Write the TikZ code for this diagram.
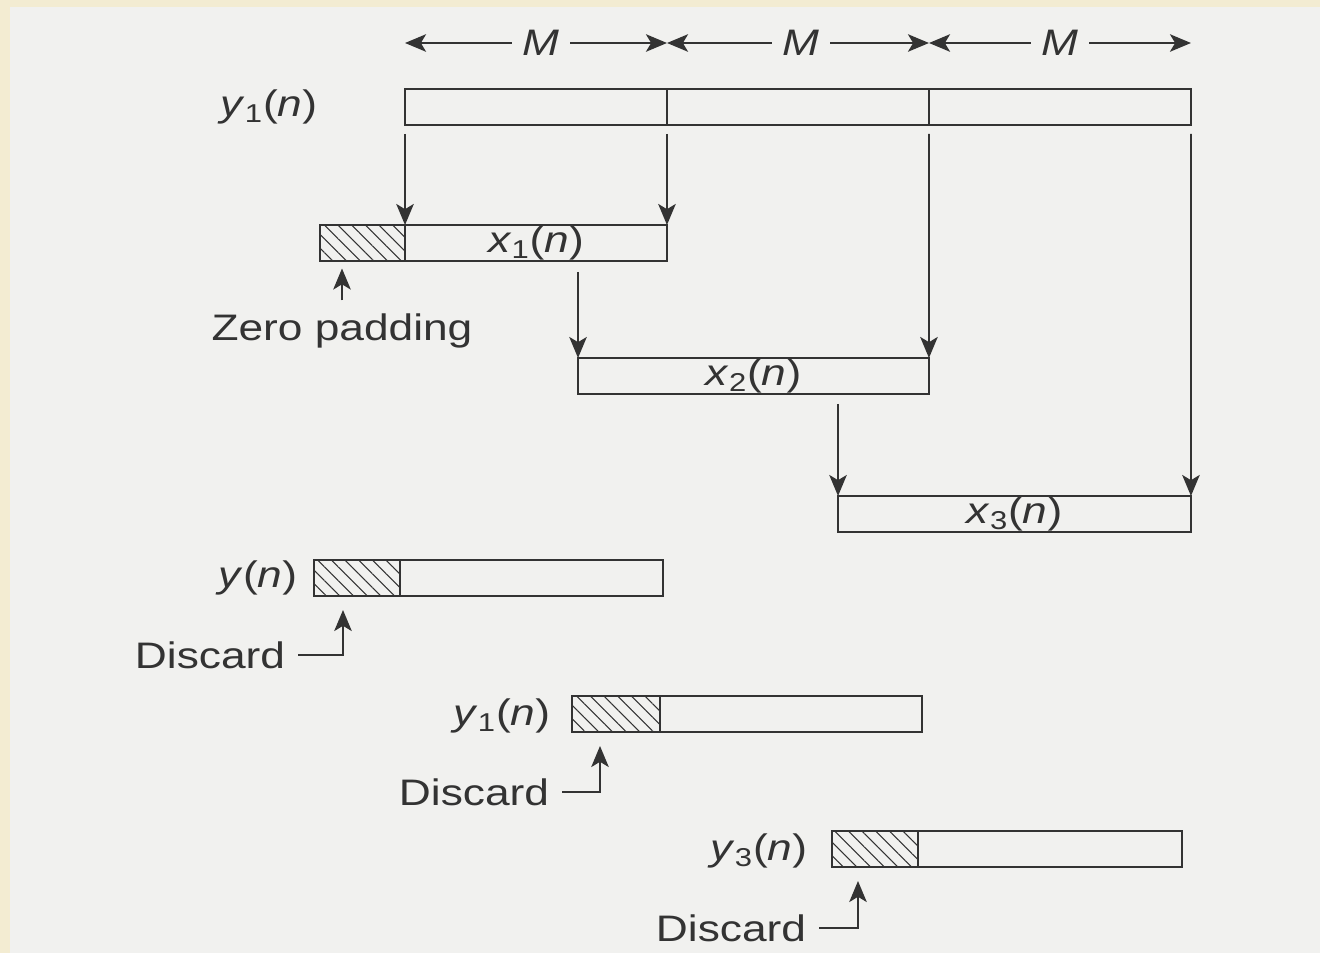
\documentclass[tikz,border=0pt]{standalone}
\usepackage{fontspec}
\setmainfont{Liberation Sans}[FakeStretch=1.2]
\usepackage{xcolor}
\usetikzlibrary{arrows.meta,patterns.meta}
\definecolor{ink}{HTML}{333333}
\definecolor{paper}{HTML}{F1F1EF}
\definecolor{cream}{HTML}{F3ECD2}
\newcommand{\sq}[2]{\textit{#1}\textsubscript{#2}(\textit{n})}

\begin{document}
\begin{tikzpicture}[
  x=0.02cm, y=-0.02cm, line width=1pt, color=ink,  lbl/.style={font=\fontsize{21}{25}\selectfont,inner sep=0pt},  seg/.style={draw,lbl,minimum height=0.72cm,outer sep=0pt},  pad/.style={seg,pattern={Lines[angle=-45,distance=5.5pt,line width=0.6pt]},pattern color=ink},  arr/.style={-{Stealth[length=12pt,width=10pt,inset=3pt]}}
]
  \fill[paper] (0,0) rectangle (1320,953);
  \fill[cream] (0,0) rectangle (10,953);
  \fill[cream] (0,0) rectangle (1320,7);
  \useasboundingbox (0,0) rectangle (1320,953);
  \node[lbl] (m1) at (541,43) {\textit{M}};
  \node[lbl] (m2) at (801,43) {\textit{M}};
  \node[lbl] (m3) at (1060,43) {\textit{M}};
  \node[seg,minimum width=5.24cm] (y1a) at (536,107) {};
  \node[seg,minimum width=5.24cm] (y1b) at (798,107) {};
  \node[seg,minimum width=5.24cm] (y1c) at (1060,107) {};
  \node[lbl,anchor=east] (y1lbl) at (318,107) {\sq{y}{1}};
  \node[pad,minimum width=1.7cm] (x1pad) at (362.5,243) {};
  \node[seg,minimum width=5.24cm] (x1) at (536,243) {\sq{x}{1}};
  \node[lbl] (zp) at (342,331) {Zero padding};
  \node[seg,minimum width=7.02cm] (x2) at (753.5,376) {\sq{x}{2}};
  \node[seg,minimum width=7.06cm] (x3) at (1014.5,514) {\sq{x}{3}};
  \node[pad,minimum width=1.72cm] (yopad) at (357,578) {};
  \node[seg,minimum width=5.26cm] (yo) at (531.5,578) {};
  \node[lbl,anchor=east] (yolbl) at (298,578) {\textit{y}(\textit{n})};
  \node[lbl] (d1) at (210,655) {Discard};
  \node[pad,minimum width=1.76cm] (yo1pad) at (616,714) {};
  \node[seg,minimum width=5.24cm] (yo1) at (791,714) {};
  \node[lbl,anchor=east] (yo1lbl) at (551,716) {\sq{y}{1}};
  \node[lbl] (d2) at (474,792) {Discard};
  \node[pad,minimum width=1.72cm] (yo3pad) at (875,849) {};
  \node[seg,minimum width=5.28cm] (yo3) at (1050,849) {};
  \node[lbl,anchor=east] (yo3lbl) at (808,851) {\sq{y}{3}};
  \node[lbl] (d3) at (731,928) {Discard};
  \draw[arr] ([xshift=-0.2cm]m1.west) -- (m1.west -| y1a.west);
  \draw[arr] ([xshift=0.2cm]m1.east) -- (m1.east -| y1a.east);
  \draw[arr] ([xshift=-0.2cm]m2.west) -- (m2.west -| y1b.west);
  \draw[arr] ([xshift=0.2cm]m2.east) -- (m2.east -| y1b.east);
  \draw[arr] ([xshift=-0.2cm]m3.west) -- (m3.west -| y1c.west);
  \draw[arr] ([xshift=0.2cm]m3.east) -- (m3.east -| y1c.east);
  \draw[arr] ([yshift=-0.18cm]y1a.south west) -- (x1.north west);
  \draw[arr] ([yshift=-0.18cm]y1a.south east) -- (x1.north east);
  \draw[arr] ([yshift=-0.22cm]x1.south -| x2.north west) -- (x2.north west);
  \draw[arr] ([yshift=-0.18cm]y1b.south east) -- (x2.north east);
  \draw[arr] ([yshift=-0.2cm]x2.south -| x3.north west) -- (x3.north west);
  \draw[arr] ([yshift=-0.18cm]y1c.south east) -- (x3.north east);
  \draw[arr] ([yshift=0.25cm]zp.north) -- ([yshift=-0.15cm]zp.north |- x1pad.south);
  \draw[arr] ([xshift=0.25cm]d1.east) -| ([xshift=0.58cm,yshift=-0.28cm]yopad.south west);
  \draw[arr] ([xshift=0.25cm]d2.east) -| ([xshift=0.56cm,yshift=-0.28cm]yo1pad.south west);
  \draw[arr] ([xshift=0.25cm]d3.east) -| ([xshift=0.52cm,yshift=-0.28cm]yo3pad.south west);
\end{tikzpicture}
\end{document}
